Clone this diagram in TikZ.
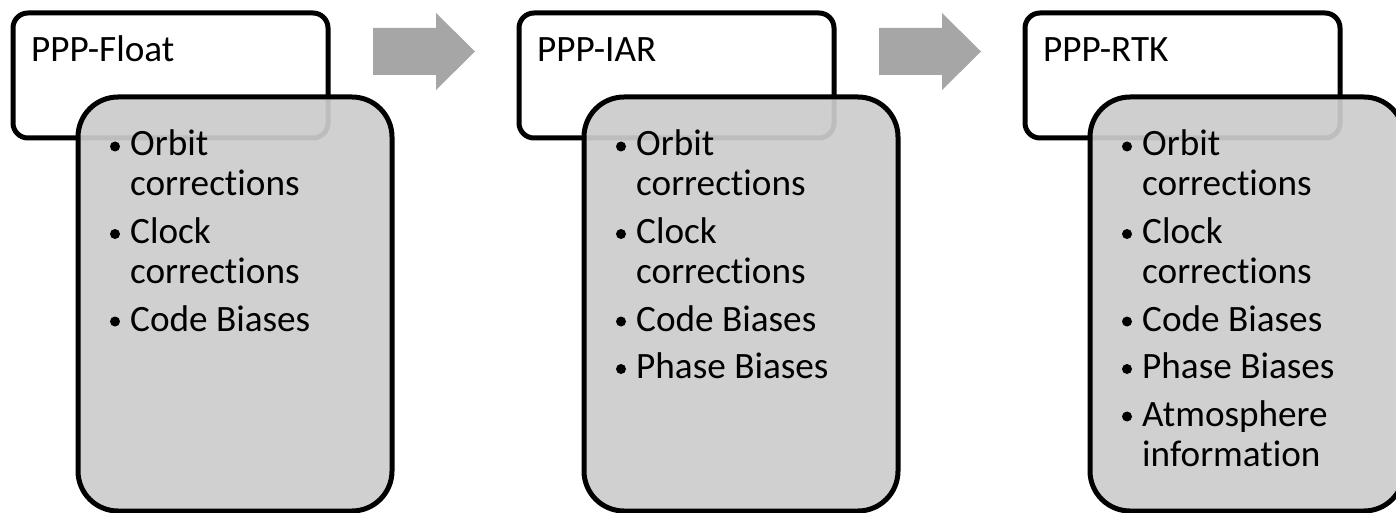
\documentclass[tikz,border=0pt]{standalone}
\usepackage{fontspec}
\setmainfont{Carlito}[Ligatures={NoCommon}]
\definecolor{boxgray}{RGB}{204,204,204}
\definecolor{arrowgray}{RGB}{166,166,166}

\tikzset{
  titlebox/.style={draw=black, line width=5pt, fill=white, rounded corners=15pt,
    minimum width=315pt, minimum height=125pt, anchor=north west, inner sep=0pt},
  listbox/.style={draw=black, line width=5pt, fill=boxgray, fill opacity=0.93,
    draw opacity=1, rounded corners=40pt,
    minimum width=314pt, minimum height=414pt, anchor=north west, inner sep=0pt},
  txt/.style={anchor=base west, inner sep=0pt, font=\fontsize{37.2}{41}\selectfont},
  blockarrow/.style={fill=arrowgray, draw=none},
  dot/.style={fill=black}
}

% one bullet mark to the left of the line whose base west is (#1)
\newcommand{\bulletmark}[1]{\fill[dot] ([xshift=-15pt,yshift=9.5pt]#1.base west) circle (5pt);}

\begin{document}
\begin{tikzpicture}[x=1pt,y=-1pt]
\useasboundingbox (0,0) rectangle (1396,513);

% ---------- panel 1: PPP-Float ----------
\node[titlebox] (t1) at (10.5,10.5) {};
\node[listbox] (l1) at (75.5,94.5) {};
\node[txt] (h1) at (31,62) {PPP-Float};
\node[txt] (a1) at (130,156) {Orbit};
\node[txt] (a1b) at (130,196) {corrections};
\node[txt] (b1) at (130,243.5) {Clock};
\node[txt] (b1b) at (130,283.5) {corrections};
\node[txt] (c1) at (130,331) {Code Biases};
\bulletmark{a1}\bulletmark{b1}\bulletmark{c1}

% arrow 1
\fill[blockarrow] (373,28) -- (436,28) -- (436,13) -- (475,51.5) -- (436,90) -- (436,75) -- (373,75) -- cycle;

% ---------- panel 2: PPP-IAR ----------
\begin{scope}[xshift=506pt]
\node[titlebox] (t2) at (10.5,10.5) {};
\node[listbox] (l2) at (75.5,94.5) {};
\node[txt] (h2) at (31,62) {PPP-IAR};
\node[txt] (a2) at (130,156) {Orbit};
\node[txt] (a2b) at (130,196) {corrections};
\node[txt] (b2) at (130,243.5) {Clock};
\node[txt] (b2b) at (130,283.5) {corrections};
\node[txt] (c2) at (130,331) {Code Biases};
\node[txt] (d2) at (130,378.5) {Phase Biases};
\bulletmark{a2}\bulletmark{b2}\bulletmark{c2}\bulletmark{d2}

% arrow 2
\fill[blockarrow] (373,28) -- (436,28) -- (436,13) -- (475,51.5) -- (436,90) -- (436,75) -- (373,75) -- cycle;
\end{scope}

% ---------- panel 3: PPP-RTK ----------
\begin{scope}[xshift=1012pt]
\node[titlebox] (t3) at (10.5,10.5) {};
\node[listbox] (l3) at (75.5,94.5) {};
\node[txt] (h3) at (31,62) {PPP-RTK};
\node[txt] (a3) at (130,156) {Orbit};
\node[txt] (a3b) at (130,196) {corrections};
\node[txt] (b3) at (130,243.5) {Clock};
\node[txt] (b3b) at (130,283.5) {corrections};
\node[txt] (c3) at (130,331) {Code Biases};
\node[txt] (d3) at (130,378.5) {Phase Biases};
\node[txt] (e3) at (130,426) {Atmosphere};
\node[txt] (e3b) at (130,466) {information};
\bulletmark{a3}\bulletmark{b3}\bulletmark{c3}\bulletmark{d3}\bulletmark{e3}
\end{scope}
\end{tikzpicture}
\end{document}
